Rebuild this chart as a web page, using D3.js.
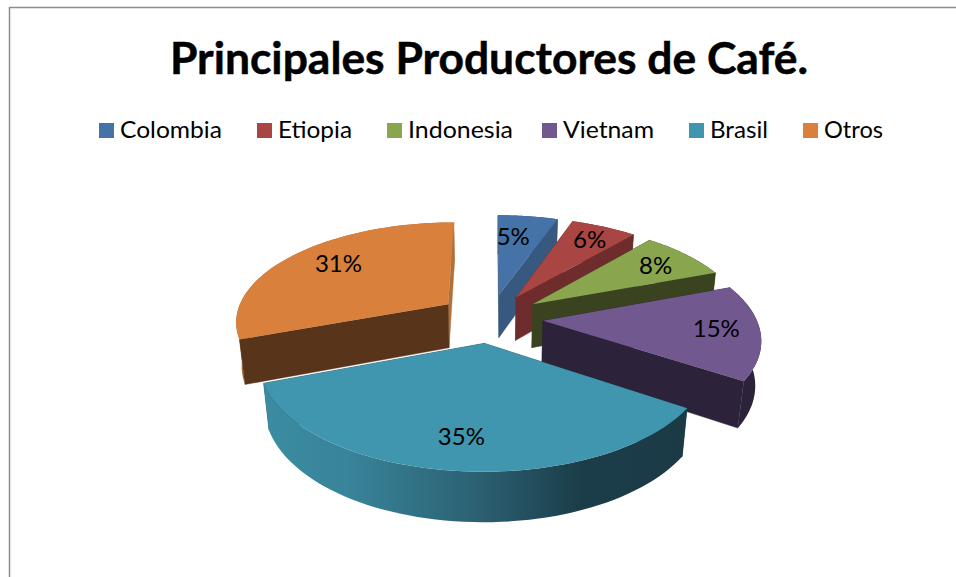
<!DOCTYPE html>
<html><head><meta charset="utf-8">
<script src="https://cdn.jsdelivr.net/npm/d3@7"></script>
<style>html,body{margin:0;padding:0;background:#fff}svg{display:block}text{font-family:Lato,"Open Sans",sans-serif;fill:#000}</style>
</head><body><svg id="c" width="956" height="577"></svg>
<script>
const titleText = "Principales Productores de Café.";
const categories = ["Colombia","Etiopia","Indonesia","Vietnam","Brasil","Otros"];
const values = [5.4,5.9,8,15,35,30.7];
const topColors = ["#4573a7","#a94543","#89a54e","#71588f","#4096ae","#d8803c"];
const startColors = ["#37587f","#6e2d2c","#3a431f","#2c2239","#1f4854","#58341a"];
const outerColors = ["#37587f","#6e2d2c","#3a431f","#2c2239","url(#brasilWall)","#b0703a"];
const endColors = ["#37587f","#6e2d2c","#3a431f","#2c2239","#1f4854","#b0703a"];
const paintOrder = ["Colombia","Etiopia","Indonesia","Otros","Vietnam","Brasil"];
const labelRadius = [.69,.79,.77,.80,.77,.73];
const labelShiftDeg = [-3,1,1.5,0,0,3];
const legendSwatchX = [99,257,387,542,689,803];
const legendTextW = [102,74,105,91,58,59];

const svg = d3.select("#c");
const R=213, cx=490.5, cy=318, a=99, k=.159, h=45, m=.022, explode=.247;
const project=(X,Y,Z)=>{const w=1+k*Y+m*Z;return [cx+R*X/w, cy+(-a*Y+h*Z)/w];};
const line=d3.line();

const defs=svg.append("defs");
const grad=defs.append("linearGradient").attr("id","brasilWall").attr("gradientUnits","userSpaceOnUse")
  .attr("x1",263).attr("x2",687).attr("y1",0).attr("y2",0);
[[0,"#3b8ca2"],[.2,"#38849a"],[.5,"#2c6173"],[.75,"#1b3d49"],[1,"#1a3a46"]]
  .forEach(s=>grad.append("stop").attr("offset",s[0]).attr("stop-color",s[1]));

// frame
svg.append("path").attr("d",line([[9.5,577],[9.5,7.5],[956,7.5]])).attr("fill","none").attr("stroke","#8c8c8c").attr("stroke-width",1.5);

// title
svg.append("text").text(titleText).attr("x",170).attr("y",74).attr("font-size",44).attr("font-weight",700)
  .attr("stroke","#000").attr("stroke-width",.5)
  .attr("textLength",638).attr("lengthAdjust","spacingAndGlyphs");

// legend
categories.forEach((c,i)=>{
  svg.append("rect").attr("x",legendSwatchX[i]).attr("y",123).attr("width",15).attr("height",15).attr("fill",topColors[i]);
  svg.append("text").text(c).attr("x",legendSwatchX[i]+21).attr("y",138).attr("font-size",24)
    .attr("textLength",legendTextW[i]).attr("lengthAdjust","spacingAndGlyphs");
});

// slices
const arcs=d3.pie().sort(null).value(d=>d)(values);
const slices=arcs.map((p,i)=>{
  const mid=(p.startAngle+p.endAngle)/2;
  return {i,name:categories[i],start:p.startAngle,end:p.endAngle,mid,
    ox:explode*Math.sin(mid),oy:explode*Math.cos(mid),value:p.value};
});
const rim=(s,Z)=>d3.range(0,61).map(j=>{const t=s.start+(s.end-s.start)*j/60;
  return project(s.ox+Math.sin(t),s.oy+Math.cos(t),Z);});
const pt=(s,t,Z)=>project(s.ox+Math.sin(t),s.oy+Math.cos(t),Z);
const apex=(s,Z)=>project(s.ox,s.oy,Z);

const g=svg.append("g");
const face=(pts,fill)=>g.append("path").attr("d",line(pts)+"Z").attr("fill",fill).attr("stroke",fill).attr("stroke-width",.4);
paintOrder.forEach(name=>{
  const s=slices[categories.indexOf(name)], i=s.i;
  const top=rim(s,0), bot=rim(s,1);
  const startWall=()=>face([apex(s,0),pt(s,s.start,0),pt(s,s.start,1),apex(s,1)],startColors[i]);
  const endWall=()=>face([apex(s,0),pt(s,s.end,0),pt(s,s.end,1),apex(s,1)],endColors[i]);
  const startBack=Math.sin(s.start)>0, endBack=Math.sin(s.end)<0;
  if(startBack) startWall();
  if(endBack) endWall();
  g.append("path").attr("d",line(top.concat(bot.slice().reverse()))+"Z").attr("fill",outerColors[i]);
  if(!endBack) endWall();
  if(!startBack) startWall();
  g.append("path").attr("d",line([apex(s,0)].concat(top))+"Z").attr("fill",topColors[i]);
});
slices.forEach(s=>{
  const t=s.mid+labelShiftDeg[s.i]*Math.PI/180;
  const p=project(s.ox+labelRadius[s.i]*Math.sin(t),s.oy+labelRadius[s.i]*Math.cos(t),0);
  svg.append("text").text(d3.format(".0f")(s.value)+"%").attr("x",p[0]).attr("y",p[1]+7.5)
    .attr("text-anchor","middle").attr("font-size",24);
});
</script></body></html>
